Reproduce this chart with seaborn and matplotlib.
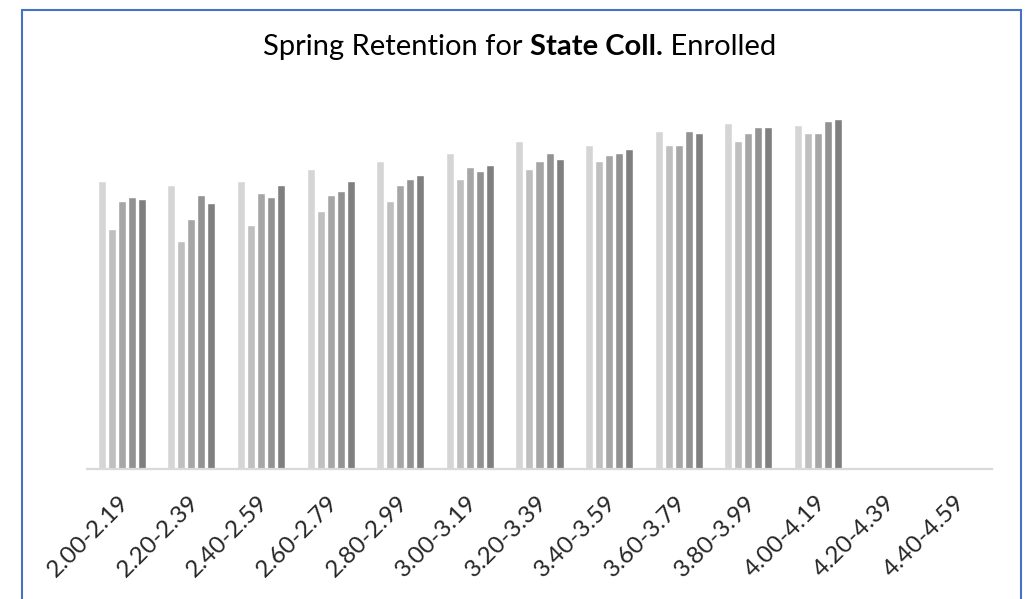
import matplotlib
matplotlib.use("Agg")
import matplotlib.pyplot as plt
from matplotlib.patches import Rectangle
from matplotlib.transforms import ScaledTranslation
import seaborn as sns
import numpy as np
import pandas as pd

# GPA bands on the x axis
categories = ["2.00-2.19", "2.20-2.39", "2.40-2.59", "2.60-2.79", "2.80-2.99",
              "3.00-3.19", "3.20-3.39", "3.40-3.59", "3.60-3.79", "3.80-3.99",
              "4.00-4.19", "4.20-4.39", "4.40-4.59"]

# retention (%) per cohort; last two bands have no data
cohort_1 = [78.0, 77.0, 78.0, 81.3, 83.5, 85.6, 88.9, 87.8, 91.6, 93.8, 93.2, np.nan, np.nan]
cohort_2 = [65.0, 61.8, 66.1, 69.9, 72.6, 78.6, 81.3, 83.5, 87.8, 88.9, 91.1, np.nan, np.nan]
cohort_3 = [72.6, 67.8, 74.8, 74.3, 77.0, 81.8, 83.5, 85.1, 87.8, 91.1, 91.1, np.nan, np.nan]
cohort_4 = [73.7, 74.3, 73.7, 75.3, 78.6, 80.8, 85.6, 85.6, 91.6, 92.7, 94.3, np.nan, np.nan]
cohort_5 = [73.2, 72.1, 77.0, 78.0, 79.7, 82.4, 84.0, 86.7, 91.1, 92.7, 94.9, np.nan, np.nan]

series_names = ["Cohort 1", "Cohort 2", "Cohort 3", "Cohort 4", "Cohort 5"]
series_values = [cohort_1, cohort_2, cohort_3, cohort_4, cohort_5]
grays = ["#D5D5D5", "#BFBFBF", "#A6A6A6", "#929292", "#7F7F7F"]

rows = []
for name, vals in zip(series_names, series_values):
    for cat, v in zip(categories, vals):
        rows.append({"band": cat, "cohort": name, "retention": v})
df = pd.DataFrame(rows)

sns.set_style("white")
plt.rcParams["font.family"] = ["Lato", "DejaVu Sans"]

fig = plt.figure(figsize=(10.33, 5.99), dpi=100)
ax = fig.add_axes([87 / 1033, 1 - 469 / 599, 905 / 1033, 369 / 599])

sns.barplot(data=df, x="band", y="retention", hue="cohort", order=categories,
            hue_order=series_names, palette=grays, width=0.72, gap=0.2,
            legend=False, ax=ax, errorbar=None)

ax.set_ylim(0, 100)
ax.set_xlim(-0.5, len(categories) - 0.5)
ax.set_xlabel("")
ax.set_ylabel("")
ax.set_yticks([])
for side in ["left", "right", "top"]:
    ax.spines[side].set_visible(False)
ax.spines["bottom"].set_color("#D9D9D9")
ax.spines["bottom"].set_linewidth(1.6)
ax.tick_params(axis="x", length=0, pad=22, labelsize=17.5)
shift = ScaledTranslation(4 / 100, 0, fig.dpi_scale_trans)
for lbl in ax.get_xticklabels():
    lbl.set_rotation(45)
    lbl.set_ha("right")
    lbl.set_va("center")
    lbl.set_rotation_mode("anchor")
    lbl.set_transform(lbl.get_transform() + shift)

# title: regular / bold / regular pieces laid side by side
pieces = [("Spring Retention for ", "normal"), ("State Coll.", "bold"), (" Enrolled", "normal")]
title_size = 21
renderer = fig.canvas.get_renderer()
widths = []
for txt, wt in pieces:
    t = fig.text(0, 0, txt, fontsize=title_size, fontweight=wt)
    widths.append(t.get_window_extent(renderer).width)
    t.remove()
x = 520 - sum(widths) / 2
for (txt, wt), w in zip(pieces, widths):
    fig.text(x / 1033, 1 - 47 / 599, txt, fontsize=title_size, fontweight=wt,
             ha="left", va="center", color="black")
    x += w

# blue chart frame
fig.patches.append(Rectangle((22 / 1033, -0.05), 999 / 1033, 1.05 - 10 / 599,
                             transform=fig.transFigure, fill=False,
                             edgecolor="#4472C4", linewidth=1.5))

fig.savefig("out.png", dpi=100, facecolor="white")
